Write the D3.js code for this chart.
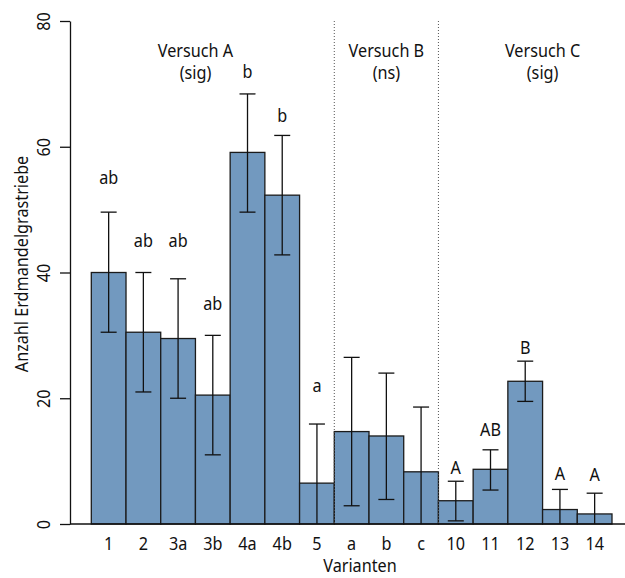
<!DOCTYPE html>
<html>
<head>
<meta charset="utf-8">
<script src="https://cdn.jsdelivr.net/npm/d3@7"></script>
<style>
  body { margin: 0; background: #fff; }
  text { font-family: "Noto Sans", "Open Sans", sans-serif; fill: #111; }
</style>
</head>
<body>
<svg id="drawing_region"></svg>
<script>
// Varianten (x categories)
const categories = ['1', '2', '3a', '3b', '4a', '4b', '5', 'a', 'b', 'c', '10', '11', '12', '13', '14'];
// mean values
const means  = [40.0, 30.5, 29.5, 20.5, 59.1, 52.3, 6.5, 14.7, 14.0, 8.3, 3.7, 8.7, 22.7, 2.3, 1.6];
// error bar upper / lower limits
const upper  = [49.6, 40.0, 39.0, 30.0, 68.4, 61.8, 15.9, 26.5, 24.0, 18.6, 6.8, 11.8, 25.9, 5.5, 4.9];
const lower  = [30.5, 21.0, 20.0, 11.0, 49.6, 42.8, -2.9, 2.9, 3.9, -2.0, 0.5, 5.4, 19.5, -0.9, -1.7];
// significance letters and the height they are written at
const letters   = ['ab', 'ab', 'ab', 'ab', 'b', 'b', 'a', '', '', '', 'A', 'AB', 'B', 'A', 'A'];
const letterPos = [55, 45, 45, 35, 72, 65, 22, 0, 0, 0, 9, 15, 28, 8, 7.8];
// trial groups: title is placed at the left edge of "at" (or its centre)
const groups = [
  {name: 'Versuch A', note: '(sig)', at: '3b', centre: false},
  {name: 'Versuch B', note: '(ns)',  at: 'b',  centre: true},
  {name: 'Versuch C', note: '(sig)', at: '13', centre: false}
];
const separators = ['a', '10'];
const yTicks = [0, 20, 40, 60, 80];

const data = categories.map((c, i) => ({
  cat: c, value: means[i], hi: upper[i], lo: lower[i], letter: letters[i], lpos: letterPos[i]
}));

const width = 625, height = 578;
const margin = {top: 21, right: 13, bottom: 54, left: 70};
const fs = '18px';

const svg = d3.select('#drawing_region')
  .attr('width', width)
  .attr('height', height);

const x = d3.scaleBand()
  .domain(categories)
  .range([91.3, width - margin.right])
  .padding(0);

const y = d3.scaleLinear()
  .domain([0, 80])
  .range([height - margin.bottom, margin.top]);

svg.append('defs').append('clipPath').attr('id', 'plotclip')
  .append('rect')
  .attr('x', margin.left).attr('y', 0)
  .attr('width', width - margin.left).attr('height', y(0));

// bars
svg.append('g').selectAll('rect')
  .data(data)
  .enter()
  .append('rect')
  .attr('x', d => x(d.cat))
  .attr('y', d => y(d.value))
  .attr('width', x.bandwidth())
  .attr('height', d => y(0) - y(d.value))
  .attr('fill', '#7299bf')
  .attr('stroke', '#1b1b1b')
  .attr('stroke-width', 1.3);

// error bars
const eb = svg.append('g').attr('clip-path', 'url(#plotclip)')
  .attr('stroke', '#111').attr('stroke-width', 1.3);
const cap = 8;
const cx = d => x(d.cat) + x.bandwidth() / 2;
eb.selectAll('line.v')
  .data(data)
  .enter()
  .append('line')
  .attr('x1', cx).attr('x2', cx)
  .attr('y1', d => y(d.hi))
  .attr('y2', d => y(d.lo));
eb.selectAll('line.t')
  .data(data)
  .enter()
  .append('line')
  .attr('x1', d => cx(d) - cap)
  .attr('x2', d => cx(d) + cap)
  .attr('y1', d => y(d.hi))
  .attr('y2', d => y(d.hi));
eb.selectAll('line.b')
  .data(data.filter(d => d.lo >= 0))
  .enter()
  .append('line')
  .attr('x1', d => cx(d) - cap)
  .attr('x2', d => cx(d) + cap)
  .attr('y1', d => y(d.lo))
  .attr('y2', d => y(d.lo));

// letters
svg.append('g').selectAll('text')
  .data(data.filter(d => d.letter))
  .enter()
  .append('text')
  .attr('x', cx)
  .attr('y', d => y(d.lpos))
  .attr('dy', '0.35em')
  .attr('text-anchor', 'middle')
  .style('font-size', fs)
  .text(d => d.letter);

// dotted separators
svg.append('g').selectAll('line')
  .data(separators)
  .enter()
  .append('line')
  .attr('x1', d => x(d)).attr('x2', d => x(d))
  .attr('y1', y(80)).attr('y2', y(0))
  .attr('stroke', '#555')
  .attr('stroke-width', 1)
  .attr('stroke-dasharray', '1,2');

// group titles
const gt = svg.append('g').selectAll('g')
  .data(groups)
  .enter()
  .append('g')
  .attr('transform', d => `translate(${x(d.at) + (d.centre ? x.bandwidth() / 2 : 0)},0)`);
gt.append('text')
  .attr('y', 51).attr('dy', '0.35em')
  .attr('text-anchor', 'middle')
  .style('font-size', fs)
  .text(d => d.name);
gt.append('text')
  .attr('y', 73).attr('dy', '0.35em')
  .attr('text-anchor', 'middle')
  .style('font-size', fs)
  .text(d => d.note);

// y axis
const yAxis = svg.append('g')
  .attr('transform', `translate(${margin.left},0)`)
  .call(d3.axisLeft(y).tickValues(yTicks).tickSize(10).tickSizeOuter(0));
yAxis.attr('font-family', null);
yAxis.select('.domain').attr('stroke', '#111').attr('stroke-width', 1.3);
yAxis.selectAll('.tick line').attr('stroke', '#111').attr('stroke-width', 1.3);
yAxis.selectAll('.tick text')
  .attr('x', 0).attr('y', 0).attr('dy', 0)
  .attr('transform', 'translate(-27,0) rotate(-90)')
  .attr('text-anchor', 'middle')
  .attr('dominant-baseline', 'central')
  .style('font-size', fs)
  .attr('fill', '#111');

// baseline
svg.append('line')
  .attr('x1', margin.left).attr('x2', width)
  .attr('y1', y(0)).attr('y2', y(0))
  .attr('stroke', '#111').attr('stroke-width', 1.3);

// x labels
const xAxis = svg.append('g')
  .attr('transform', `translate(0,${y(0)})`)
  .call(d3.axisBottom(x).tickSize(0));
xAxis.attr('font-family', null);
xAxis.select('.domain').remove();
xAxis.selectAll('.tick text')
  .attr('y', 20)
  .attr('dy', '0.35em')
  .style('font-size', fs)
  .attr('fill', '#111');

// axis titles
svg.append('text')
  .attr('x', 360).attr('y', 572)
  .attr('text-anchor', 'middle')
  .style('font-size', fs)
  .text('Varianten');
svg.append('text')
  .attr('transform', 'translate(21,264) rotate(-90)')
  .attr('text-anchor', 'middle')
  .attr('dominant-baseline', 'central')
  .style('font-size', fs)
  .text('Anzahl Erdmandelgrastriebe');

// the original font is a narrow one: squeeze every label a little
svg.selectAll('text').each(function() {
  const len = this.getComputedTextLength();
  d3.select(this)
    .attr('textLength', len * 0.9)
    .attr('lengthAdjust', 'spacingAndGlyphs');
});
</script>
</body>
</html>
